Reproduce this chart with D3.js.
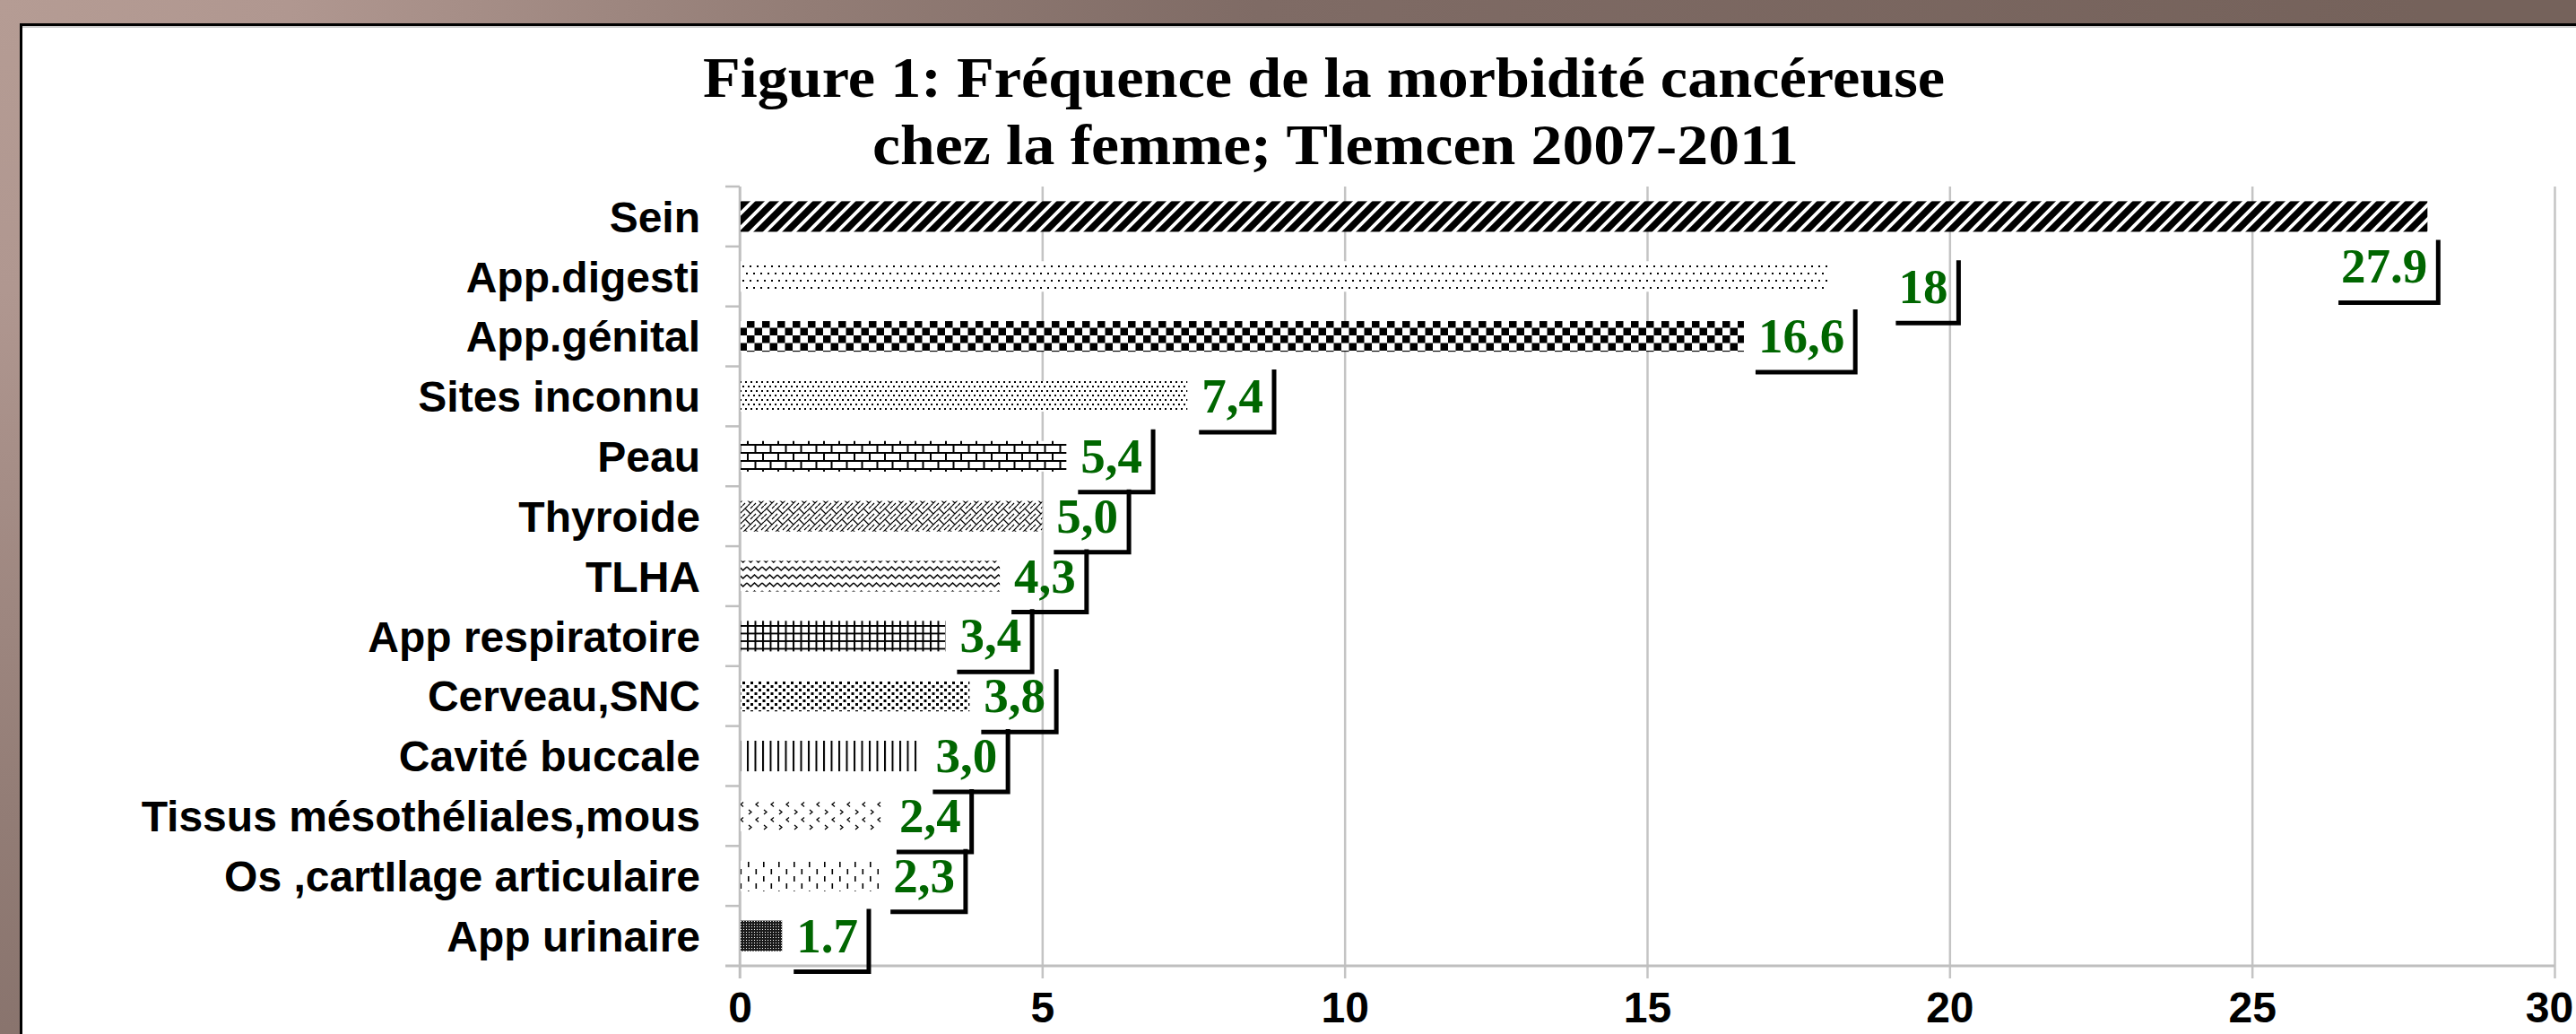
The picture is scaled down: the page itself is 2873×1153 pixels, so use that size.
<!DOCTYPE html>
<html>
<head>
<meta charset="utf-8">
<script src="https://cdn.jsdelivr.net/npm/d3@7"></script>
<style>
  body { margin: 0; overflow: hidden; background: #75625b; }
</style>
</head>
<body>
<div id="chart"></div>
<script>
// Data, top to bottom as drawn
const categories = ["Sein", "App.digesti", "App.génital", "Sites inconnu", "Peau", "Thyroide", "TLHA",
    "App respiratoire", "Cerveau,SNC", "Cavité buccale", "Tissus mésothéliales,mous",
    "Os ,cartIlage articulaire", "App urinaire"];
const values = [27.9, 18, 16.6, 7.4, 5.4, 5.0, 4.3, 3.4, 3.8, 3.0, 2.4, 2.3, 0.7];
const valueLabels = ["27.9", "18", "16,6", "7,4", "5,4", "5,0", "4,3", "3,4", "3,8", "3,0", "2,4", "2,3", "1.7"];
const xTicks = [0, 5, 10, 15, 20, 25, 30];
const titleLines = ["Figure 1: Fréquence de la morbidité cancéreuse", "chez la femme; Tlemcen 2007-2011"];

// Size and plot area
const W = 2873, H = 1153;
const plot = {left: 825, right: 2849, top: 208, bottom: 1077};
const sansFont = "'Liberation Sans', Arial, sans-serif";
const serifFont = "'Liberation Serif', 'Times New Roman', serif";

const svg = d3.select("#chart")
    .append("svg")
    .attr("width", W)
    .attr("height", H);

const defs = svg.append("defs");

// Background gradient behind the white panel
const bg = defs.append("radialGradient")
    .attr("id", "bg")
    .attr("gradientUnits", "userSpaceOnUse")
    .attr("cx", 0).attr("cy", 0).attr("r", 2700);
[[0, "#b59c94"], [0.12, "#b09790"], [0.33, "#937d76"], [0.52, "#7f6b65"], [1, "#75625b"]]
    .forEach(s => bg.append("stop").attr("offset", s[0]).attr("stop-color", s[1]));

svg.append("rect")
    .attr("width", W)
    .attr("height", H)
    .attr("fill", "url(#bg)");

// White panel
svg.append("rect")
    .attr("x", 23.5).attr("y", 27.5)
    .attr("width", W).attr("height", H)
    .attr("fill", "#fff")
    .attr("stroke", "#000")
    .attr("stroke-width", 3);
svg.append("line")
    .attr("x1", 25).attr("x2", W)
    .attr("y1", 30).attr("y2", 30)
    .attr("stroke", "#9a9a9a")
    .attr("stroke-width", 1);

// Pattern fills, one per bar (Excel style hatches)
function pattern(id, w, h, draw) {
    const p = defs.append("pattern")
        .attr("id", id)
        .attr("patternUnits", "userSpaceOnUse")
        .attr("width", w)
        .attr("height", h);
    p.append("rect").attr("width", w).attr("height", h).attr("fill", "#fff");
    draw(p);
}
function blocks(p, pts, w, h) {
    pts.forEach(d => p.append("rect")
        .attr("x", d[0]).attr("y", d[1])
        .attr("width", w).attr("height", h === undefined ? w : h)
        .attr("fill", "#000"));
}
function strokePath(p, d, sw) {
    p.append("path").attr("d", d).attr("fill", "none").attr("stroke", "#000").attr("stroke-width", sw);
}

const patternDraws = [
    // wide upward diagonal
    [16, 16, p => strokePath(p, "M-4,4 L4,-4 M0,16 L16,0 M12,20 L20,12", 7.5)],
    // sparse dots
    [8, 16, p => blocks(p, [[0, 0], [4, 8]], 2)],
    // checker board
    [17, 17, p => blocks(p, [[0, 0], [8.5, 8.5]], 8.5)],
    // dense dots
    [6, 10, p => blocks(p, [[0, 0], [3, 5]], 2)],
    // horizontal brick
    [17, 18, p => strokePath(p, "M0,1 H17 M0,10 H17 M1,1 V10 M9.5,10 V19", 2)],
    // weave
    [12, 12, p => strokePath(p, "M0,6 L6,0 M6,12 L12,6 M3,3 L9,9 M9,3 L12,0 M0,12 L3,9", 1.2)],
    // wave
    [17, 9, p => strokePath(p, "M0,2 L4.25,6 L8.5,2 L12.75,6 L17,2", 1.6)],
    // small grid
    [8.5, 8.5, p => strokePath(p, "M1,0 V8.5 M0,1 H8.5", 2)],
    // staggered squares
    [9, 8, p => blocks(p, [[0, 0], [4.5, 4]], 3)],
    // vertical lines
    [8.5, 10, p => blocks(p, [[0, 0]], 2, 10)],
    // chevron confetti
    [17, 17, p => strokePath(p, "M2,2 l3,2.5 l-3,2.5 M13,10.5 l-3,2.5 l3,2.5", 1.3)],
    // dashed vertical
    [17, 16, p => blocks(p, [[1, 1], [9.5, 9]], 1.6, 6)],
    // dark fill with light specks
    [3, 3, p => {
        p.append("rect").attr("width", 3).attr("height", 3).attr("fill", "#1a1a1a");
        p.append("rect").attr("x", 1).attr("y", 1).attr("width", 1).attr("height", 1).attr("fill", "#fff");
    }]
];
patternDraws.forEach((d, i) => pattern("pat" + i, d[0], d[1], d[2]));

// Scales
const x = d3.scaleLinear()
    .domain([0, 30])
    .range([plot.left, plot.right]);

const y = d3.scaleBand()
    .domain(categories)
    .range([plot.top, plot.bottom])
    .paddingInner(0.49)
    .paddingOuter(0.245);

// Gridlines and tick labels
const xAxis = svg.append("g")
    .attr("transform", `translate(0,${plot.bottom + 14})`)
    .call(d3.axisBottom(x).tickValues(xTicks).tickSize(-(plot.bottom + 14 - plot.top)).tickSizeOuter(0).tickPadding(15))
    .attr("font-family", sansFont)
    .attr("font-size", 48)
    .attr("font-weight", "bold");
xAxis.select(".domain").remove();
xAxis.selectAll(".tick line").attr("stroke", "#c4c4c4").attr("stroke-width", 2.5);
xAxis.selectAll(".tick text").attr("fill", "#000");
// keep the last label inside the page edge
xAxis.selectAll(".tick text").filter(d => d === xTicks[xTicks.length - 1]).attr("x", -6);

// Axis lines
svg.append("line")
    .attr("x1", plot.left - 16).attr("x2", plot.right)
    .attr("y1", plot.bottom).attr("y2", plot.bottom)
    .attr("stroke", "#bfbfbf").attr("stroke-width", 3);
svg.append("line")
    .attr("x1", plot.left).attr("x2", plot.left)
    .attr("y1", plot.top).attr("y2", plot.bottom + 14)
    .attr("stroke", "#bfbfbf").attr("stroke-width", 2.5);

// Category boundary ticks
svg.selectAll(".cat-tick")
    .data(d3.range(categories.length))
    .join("line")
    .attr("class", "cat-tick")
    .attr("x1", plot.left - 16).attr("x2", plot.left)
    .attr("y1", i => plot.top + i * y.step())
    .attr("y2", i => plot.top + i * y.step())
    .attr("stroke", "#bfbfbf").attr("stroke-width", 2.5);

// Category labels
const yAxis = svg.append("g")
    .attr("transform", `translate(${plot.left},0)`)
    .call(d3.axisLeft(y).tickSize(0).tickPadding(44))
    .attr("font-family", sansFont)
    .attr("font-size", 48)
    .attr("font-weight", "bold");
yAxis.select(".domain").remove();
yAxis.selectAll(".tick text").attr("fill", "#000").attr("dy", "0.36em");

// Bars
svg.selectAll(".bar")
    .data(categories)
    .join("rect")
    .attr("class", "bar")
    .attr("x", x(0) + 1)
    .attr("y", d => y(d))
    .attr("width", (d, i) => x(values[i]) - x(0) - 1)
    .attr("height", y.bandwidth())
    .attr("fill", (d, i) => `url(#pat${i})`);

// Value labels with their black corner bracket
const labelNudge = {
    "Sein": {alignEnd: true, dx: 0, dy: 56},
    "App.digesti": {alignEnd: false, dx: 62, dy: 12}
};
const labels = svg.append("g");
categories.forEach((cat, i) => {
    const cy = y(cat) + y.bandwidth() / 2;
    const barEnd = x(values[i]);
    const nudge = labelNudge[cat] || {alignEnd: false, dx: 0, dy: 0};

    const t = labels.append("text")
        .attr("font-family", serifFont)
        .attr("font-weight", "bold")
        .attr("font-size", 55)
        .attr("fill", "#006600")
        .text(valueLabels[i]);
    const tw = t.node().getComputedTextLength();
    const tx = nudge.alignEnd ? barEnd - tw : barEnd + 16 + nudge.dx;
    const ty = cy + 18 + nudge.dy;
    t.attr("x", tx).attr("y", ty);

    const left = tx - 3, right = tx + tw + 12;
    labels.append("path")
        .attr("d", `M${left},${ty + 22} H${right} V${ty - 48}`)
        .attr("fill", "none")
        .attr("stroke", "#000")
        .attr("stroke-width", 5);
});

// Title
const titleX = [784, 973];
const titleLen = [1385, 1033];
const titleY = [108, 183];
titleLines.forEach((line, i) => {
    svg.append("text")
        .attr("x", titleX[i])
        .attr("y", titleY[i])
        .attr("textLength", titleLen[i])
        .attr("lengthAdjust", "spacingAndGlyphs")
        .attr("font-family", serifFont)
        .attr("font-weight", "bold")
        .attr("font-size", 63)
        .attr("fill", "#000")
        .text(line);
});
</script>
</body>
</html>
